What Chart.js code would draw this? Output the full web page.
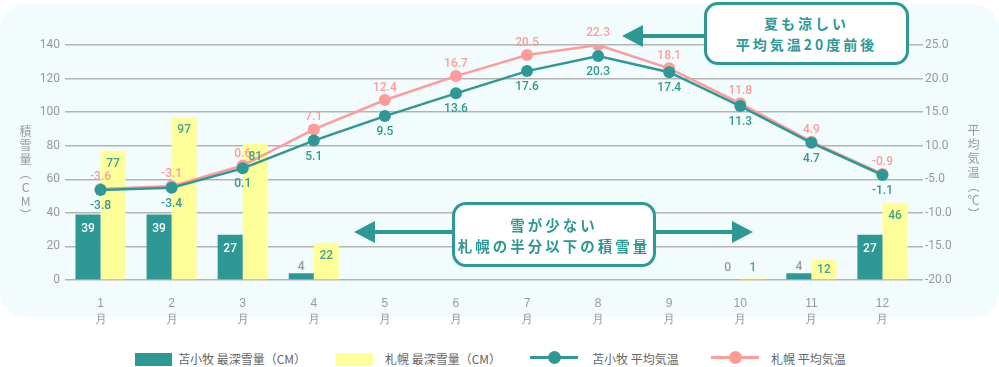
<!DOCTYPE html>
<html>
<head>
<meta charset="utf-8">
<script src="https://cdn.jsdelivr.net/npm/chart.js@4"></script>
<style>
  body { margin: 0; background: #fff; font-family: "Noto Sans CJK JP", sans-serif; }
  #wrap { position: relative; width: 999px; height: 367px; overflow: hidden; }
  #bg { position: absolute; left: 0; top: 4px; width: 999px; height: 313px; border-radius: 26px; background: #f3fcfc; }
  #chart { position: absolute; left: 0; top: 0; }
  .vt { position: absolute; writing-mode: vertical-rl; text-orientation: upright; color: #999; font-size: 12px; letter-spacing: 2px; line-height: 14px; }
  .box { position: absolute; box-sizing: border-box; border: 3px solid #2e9894; border-radius: 14px; background: #fff;
         color: #2e9894; font-weight: 700; font-size: 14px; letter-spacing: 3px; text-align: center; line-height: 21px;
         display: flex; flex-direction: column; justify-content: center; }
  .lg { position: absolute; top: 351px; height: 16px; font-size: 12px; color: #666; line-height: 16px; white-space: nowrap; }
  .sw { position: absolute; top: 353px; width: 37px; height: 13px; }
  .ln { position: absolute; top: 356px; width: 48px; height: 3px; }
  .ln i { position: absolute; left: 18px; top: -5px; width: 13px; height: 13px; border-radius: 50%; }
</style>
</head>
<body>
<div id="wrap">
  <div id="bg"></div>
  <canvas id="chart" width="999" height="330"></canvas>
  <div class="vt" style="left:18px;top:125px;">積雪量（CM）</div>
  <div class="vt" style="left:966px;top:124px;">平均気温（℃）</div>
  <div class="box" style="left:704px;top:2px;width:205px;height:63px;"><div>夏も涼しい</div><div>平均気温20度前後</div></div>
  <div class="box" style="left:452px;top:202px;width:204px;height:65px;font-size:14.5px;"><div>雪が少ない</div><div>札幌の半分以下の積雪量</div></div>

  <div class="sw" style="left:135px;background:#2e9894;"></div>
  <div class="lg" style="left:178px;">苫小牧 最深雪量（CM）</div>
  <div class="sw" style="left:336px;background:#ffff99;"></div>
  <div class="lg" style="left:385px;">札幌 最深雪量（CM）</div>
  <div class="ln" style="left:530px;background:#2e9894;"><i style="background:#2e9894;"></i></div>
  <div class="lg" style="left:592px;">苫小牧 平均気温</div>
  <div class="ln" style="left:711px;background:#ff9b9b;"><i style="background:#ff9b9b;"></i></div>
  <div class="lg" style="left:771px;">札幌 平均気温</div>
</div>

<script>
const months = ['1', '2', '3', '4', '5', '6', '7', '8', '9', '10', '11', '12'];
const snowTomakomai = [39, 39, 27, 4, 0, 0, 0, 0, 0, 0, 4, 27];
const snowSapporo = [77, 97, 81, 22, 0, 0, 0, 0, 0, 1, 12, 46];
const tempTomakomai = [-3.8, -3.4, 0.1, 5.1, 9.5, 13.6, 17.6, 20.3, 17.4, 11.3, 4.7, -1.1];
const tempSapporo = [-3.6, -3.1, 0.6, 7.1, 12.4, 16.7, 20.5, 22.3, 18.1, 11.8, 4.9, -0.9];
// right axis labels as printed, bottom to top
const rightTicks = ['-20.0', '-15.0', '-10.0', '-5.0', '10.0', '15.0', '20.0', '25.0'];

const TEAL = '#2e9894';
const YELLOW = '#ffff99';
const PINK = '#ff9b9b';
const GREY = '#999';
const NUM_FONT = '500 12px Roboto, "Noto Sans CJK JP", sans-serif';

const valueLabels = {
  id: 'valueLabels',
  afterDatasetsDraw(chart) {
    const ctx = chart.ctx;
    ctx.save();
    ctx.font = NUM_FONT;
    ctx.textAlign = 'center';
    ctx.textBaseline = 'middle';
    chart.data.datasets.forEach((ds, i) => {
      const meta = chart.getDatasetMeta(i);
      meta.data.forEach((el, j) => {
        const v = ds.data[j];
        if (ds.tag === 'snowT') {
          if (v === 0 && j !== 9) return;
          if (el.base - el.y > 24) {
            ctx.fillStyle = '#fff';
            ctx.fillText(v, el.x, el.y + 14);
          } else {
            ctx.fillStyle = GREY;
            ctx.fillText(v, el.x, Math.min(el.y - 6, 268));
          }
        } else if (ds.tag === 'snowS') {
          if (v === 0) return;
          ctx.fillStyle = '#45a08f';
          if (el.base - el.y > 14) ctx.fillText(v, el.x, Math.min(el.y + 13, el.base - 9));
          else ctx.fillText(v, el.x, Math.min(el.y - 6, 268));
        } else if (ds.tag === 'tempT') {
          ctx.fillStyle = TEAL;
          ctx.fillText(v.toFixed(1), el.x, el.y + 16);
        } else if (ds.tag === 'tempS') {
          ctx.fillStyle = PINK;
          ctx.fillText(v.toFixed(1), el.x, el.y - 12);
        }
      });
    });
    ctx.restore();
  }
};

const arrows = {
  id: 'arrows',
  afterDraw(chart) {
    const ctx = chart.ctx;
    ctx.save();
    ctx.strokeStyle = TEAL;
    ctx.fillStyle = TEAL;
    ctx.lineWidth = 4;
    const arrow = (x1, x2, y) => {
      const dir = x2 < x1 ? -1 : 1;
      ctx.beginPath();
      ctx.moveTo(x1, y);
      ctx.lineTo(x2 - dir * 18, y);
      ctx.stroke();
      ctx.beginPath();
      ctx.moveTo(x2, y);
      ctx.lineTo(x2 - dir * 21, y - 11);
      ctx.lineTo(x2 - dir * 21, y + 11);
      ctx.closePath();
      ctx.fill();
    };
    arrow(706, 622, 36);
    arrow(454, 354, 232);
    arrow(654, 753, 232);
    ctx.restore();
  }
};

new Chart(document.getElementById('chart'), {
  data: {
    labels: months.map(m => [m, '月']),
    datasets: [
      { type: 'line', tag: 'tempT', label: '苫小牧 平均気温', data: tempTomakomai, yAxisID: 'yT',
        borderColor: TEAL, backgroundColor: TEAL, borderWidth: 2.5, pointRadius: 6, pointBorderWidth: 0, order: 0 },
      { type: 'line', tag: 'tempS', label: '札幌 平均気温', data: tempSapporo, yAxisID: 'yT',
        borderColor: PINK, backgroundColor: PINK, borderWidth: 2.5, pointRadius: 6, pointBorderWidth: 0, order: 1 },
      { type: 'bar', tag: 'snowT', label: '苫小牧 最深雪量（CM）', data: snowTomakomai, yAxisID: 'y',
        backgroundColor: TEAL, barPercentage: 1, categoryPercentage: 0.705, order: 2 },
      { type: 'bar', tag: 'snowS', label: '札幌 最深雪量（CM）', data: snowSapporo, yAxisID: 'y',
        backgroundColor: YELLOW, barPercentage: 1, categoryPercentage: 0.705, order: 3 }
    ]
  },
  options: {
    responsive: false,
    animation: false,
    devicePixelRatio: 1,
    layout: { padding: { top: 45 } },
    plugins: { legend: { display: false }, tooltip: { enabled: false } },
    scales: {
      x: {
        grid: { display: false },
        border: { display: false },
        ticks: { color: GREY, font: { size: 12, lineHeight: 1.3 }, padding: 8, maxRotation: 0 },
        afterFit: s => { s.height = 50; }
      },
      y: {
        position: 'left',
        min: 0, max: 140,
        ticks: { stepSize: 20, color: GREY, font: { family: 'Roboto', size: 12 }, padding: 5 },
        grid: { color: '#b3b3b3', lineWidth: 1.5, drawTicks: false },
        border: { display: false },
        afterFit: s => { s.width = 65; }
      },
      yR: {
        position: 'right',
        min: 0, max: 140,
        ticks: { stepSize: 20, color: GREY, font: { family: 'Roboto', size: 12 }, padding: 2,
                 callback: (v, i) => rightTicks[i] },
        grid: { drawOnChartArea: false, drawTicks: true, tickLength: 5, color: '#b3b3b3', lineWidth: 1.5 },
        border: { display: false },
        afterFit: s => { s.width = 81; }
      },
      yT: {
        display: false,
        min: -20, max: 22.3
      }
    }
  },
  plugins: [valueLabels, arrows]
});
</script>
</body>
</html>
